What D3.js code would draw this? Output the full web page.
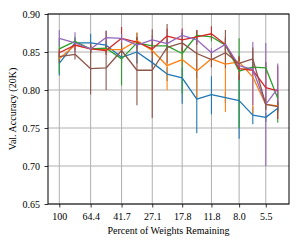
<!DOCTYPE html>
<html>
<head>
<meta charset="utf-8">
<script src="https://cdn.jsdelivr.net/npm/d3@7"></script>
<style>
  body { margin: 0; background: #fff; }
  svg { display: block; font-family: "Liberation Serif", "DejaVu Serif", serif; }
</style>
</head>
<body>
<svg id="chart" width="302" height="245"></svg>
<script>
// percent of weights remaining at each pruning round
var percent = [100, 80.2, 64.4, 51.8, 41.7, 33.6, 27.1, 22.0, 17.8, 14.5, 11.8, 9.7, 8.0, 6.6, 5.5, 4.65];
var tickValues = [100, 64.4, 41.7, 27.1, 17.8, 11.8, 8.0, 5.5];
var tickLabels = ["100", "64.4", "41.7", "27.1", "17.8", "11.8", "8.0", "5.5"];
var yTicks = [0.65, 0.70, 0.75, 0.80, 0.85, 0.90];

// mean accuracy, min and max for each trial line
var blue   = [0.835,0.862,0.862,0.859,0.843,0.850,0.836,0.821,0.816,0.788,0.794,0.790,0.786,0.767,0.764,0.776];
var blueLo = [0.819,0.856,0.850,0.854,0.836,0.835,0.830,0.812,0.782,0.743,0.768,0.783,0.736,0.755,0.758,0.770];
var blueHi = [0.850,0.868,0.874,0.864,0.850,0.875,0.842,0.830,0.830,0.815,0.818,0.797,0.820,0.778,0.770,0.782];

var orange   = [0.841,0.859,0.854,0.853,0.853,0.865,0.852,0.832,0.840,0.825,0.841,0.834,0.837,0.817,0.781,0.779];
var orangeLo = [0.834,0.854,0.849,0.848,0.848,0.855,0.843,0.800,0.832,0.789,0.830,0.771,0.830,0.769,0.774,0.774];
var orangeHi = [0.848,0.864,0.859,0.858,0.858,0.876,0.861,0.856,0.848,0.850,0.852,0.860,0.844,0.852,0.788,0.784];

var green   = [0.854,0.864,0.854,0.855,0.841,0.862,0.858,0.858,0.848,0.872,0.870,0.859,0.825,0.830,0.829,0.789];
var greenLo = [0.822,0.858,0.849,0.850,0.806,0.856,0.852,0.852,0.795,0.866,0.864,0.853,0.750,0.823,0.822,0.757];
var greenHi = [0.868,0.870,0.859,0.860,0.855,0.868,0.864,0.864,0.856,0.878,0.876,0.865,0.868,0.837,0.836,0.800];

var red   = [0.849,0.859,0.854,0.852,0.868,0.863,0.854,0.871,0.866,0.870,0.874,0.860,0.828,0.826,0.803,0.799];
var redLo = [0.843,0.853,0.848,0.846,0.852,0.857,0.848,0.860,0.851,0.860,0.867,0.850,0.813,0.820,0.790,0.762];
var redHi = [0.855,0.865,0.860,0.858,0.883,0.869,0.860,0.881,0.881,0.879,0.884,0.870,0.843,0.832,0.837,0.832];

var purple   = [0.868,0.862,0.854,0.869,0.868,0.859,0.866,0.861,0.872,0.866,0.849,0.860,0.832,0.827,0.781,0.802];
var purpleLo = [0.858,0.850,0.848,0.860,0.862,0.853,0.860,0.855,0.866,0.860,0.843,0.852,0.826,0.780,0.700,0.775];
var purpleHi = [0.879,0.876,0.860,0.878,0.874,0.865,0.872,0.867,0.878,0.872,0.855,0.868,0.838,0.863,0.862,0.835];

var brown   = [0.844,0.847,0.828,0.829,0.852,0.826,0.826,0.856,0.862,0.848,0.840,0.849,0.835,0.841,0.781,0.778];
var brownLo = [0.836,0.840,0.794,0.800,0.845,0.780,0.763,0.835,0.850,0.815,0.830,0.829,0.825,0.830,0.774,0.772];
var brownHi = [0.852,0.855,0.862,0.878,0.860,0.870,0.880,0.887,0.875,0.879,0.850,0.879,0.845,0.856,0.790,0.785];

var series = [
  {color: "#1f77b4", mean: blue,   lo: blueLo,   hi: blueHi},
  {color: "#ff7f0e", mean: orange, lo: orangeLo, hi: orangeHi},
  {color: "#2ca02c", mean: green,  lo: greenLo,  hi: greenHi},
  {color: "#d62728", mean: red,    lo: redLo,    hi: redHi},
  {color: "#9467bd", mean: purple, lo: purpleLo, hi: purpleHi},
  {color: "#8c564b", mean: brown,  lo: brownLo,  hi: brownHi}
];

// plot box (window.top is taken, so own names)
var pLeft = 48, pRight = 289, pTop = 14, pBottom = 204;
var svg = d3.select("#chart");

// log axis, reversed (fewer weights to the right)
var x = d3.scaleLog().domain([117.2, 3.97]).range([pLeft, pRight]);
var y = d3.scaleLinear().domain([0.65, 0.90]).range([pBottom, pTop]);

svg.append("defs").append("clipPath").attr("id", "plotclip")
  .append("rect").attr("x", pLeft).attr("y", pTop)
  .attr("width", pRight - pLeft).attr("height", pBottom - pTop);

// grid
var grid = svg.append("g");
grid.selectAll(".gx").data(tickValues).enter().append("line")
  .attr("x1", function(d) { return x(d); }).attr("x2", function(d) { return x(d); })
  .attr("y1", pTop).attr("y2", pBottom)
  .attr("stroke", "#b0b0b0").attr("stroke-width", 1);
grid.selectAll(".gy").data(yTicks).enter().append("line")
  .attr("x1", pLeft).attr("x2", pRight)
  .attr("y1", function(d) { return y(d); }).attr("y2", function(d) { return y(d); })
  .attr("stroke", "#b0b0b0").attr("stroke-width", 1);

var plot = svg.append("g").attr("clip-path", "url(#plotclip)");

// error bars first, lines on top
series.forEach(function(s) {
  plot.append("g").selectAll("line").data(percent).enter().append("line")
    .attr("x1", function(d) { return x(d); }).attr("x2", function(d) { return x(d); })
    .attr("y1", function(d, i) { return y(s.lo[i]); })
    .attr("y2", function(d, i) { return y(s.hi[i]); })
    .attr("stroke", s.color).attr("stroke-width", 1.1);
});

var line = d3.line()
  .x(function(d) { return x(d[0]); })
  .y(function(d) { return y(d[1]); });

series.forEach(function(s) {
  plot.append("path")
    .datum(percent.map(function(p, i) { return [p, s.mean[i]]; }))
    .attr("d", line)
    .attr("fill", "none")
    .attr("stroke", s.color)
    .attr("stroke-width", 1.3)
    .attr("stroke-linejoin", "round");
});

// axes
var xAxis = d3.axisBottom(x).tickValues(tickValues)
  .tickFormat(function(d, i) { return tickLabels[i]; })
  .tickSize(3.5).tickPadding(5.5);
var yAxis = d3.axisLeft(y).tickValues(yTicks)
  .tickFormat(d3.format(".2f")).tickSize(3.5).tickPadding(4.5);

var gx = svg.append("g").attr("transform", "translate(0," + pBottom + ")").call(xAxis);
var gy = svg.append("g").attr("transform", "translate(" + pLeft + ",0)").call(yAxis);
[gx, gy].forEach(function(g) {
  g.select(".domain").remove();
  g.selectAll("text").attr("font-size", 10).attr("fill", "#000")
    .attr("font-family", "Liberation Serif, serif");
  g.selectAll("line").attr("stroke", "#000").attr("stroke-width", 0.8);
});

// frame
svg.append("rect").attr("x", pLeft).attr("y", pTop)
  .attr("width", pRight - pLeft).attr("height", pBottom - pTop)
  .attr("fill", "none").attr("stroke", "#000").attr("stroke-width", 1);

svg.append("text").attr("x", (pLeft + pRight) / 2).attr("y", 234)
  .attr("text-anchor", "middle").attr("font-size", 10)
  .text("Percent of Weights Remaining");

svg.append("text")
  .attr("transform", "translate(12," + ((pTop + pBottom) / 2) + ") rotate(-90)")
  .attr("text-anchor", "middle").attr("dy", "0.35em").attr("font-size", 10)
  .text("Val. Accuracy (20K)");
</script>
</body>
</html>
